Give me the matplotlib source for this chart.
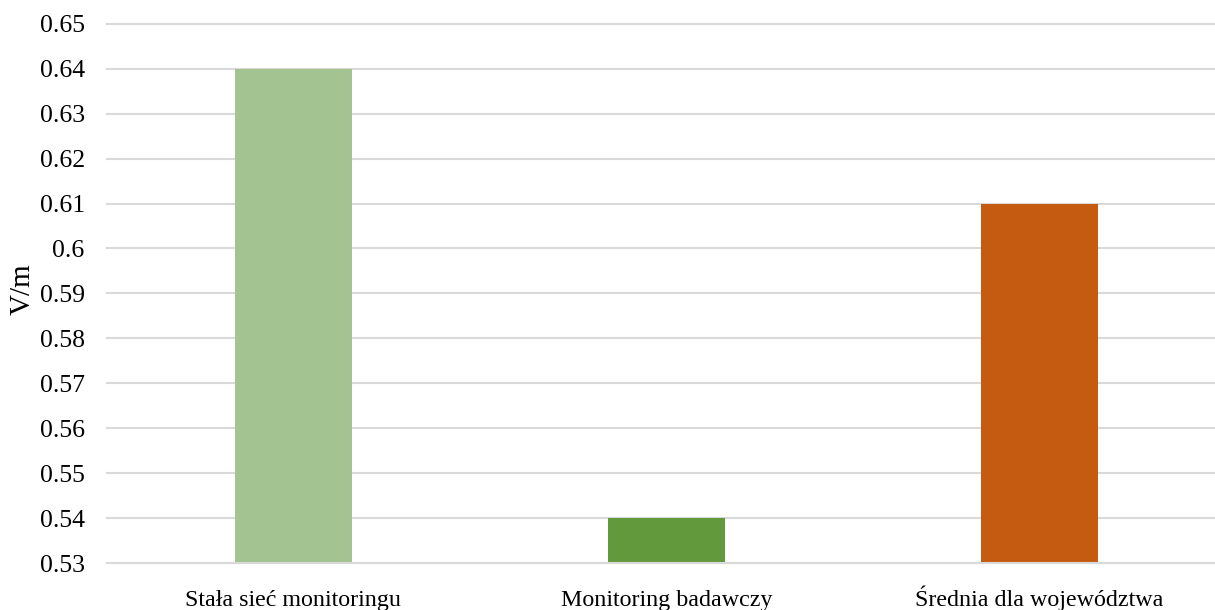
import matplotlib.pyplot as plt
import numpy as np

categories = ['Stała sieć monitoringu', 'Monitoring badawczy', 'Średnia dla województwa']
values = [0.64, 0.54, 0.61]
colors = ['#A3C490', '#63993D', '#C55A11']
yticks = [0.53, 0.54, 0.55, 0.56, 0.57, 0.58, 0.59, 0.6, 0.61, 0.62, 0.63, 0.64, 0.65]

plt.rcParams['font.family'] = ['Liberation Serif', 'DejaVu Serif']

fig = plt.figure(figsize=(12.15, 6.1), dpi=100)
ax = fig.add_axes([0.088, 0.077, 0.921, 0.884])

x = np.arange(len(categories))
ax.bar(x, [v - 0.53 for v in values], bottom=0.53, width=0.314, color=colors, zorder=2)

ax.set_xlim(-0.5, 2.5)
ax.set_ylim(0.53, 0.65)
ax.set_yticks(yticks)
ax.set_yticklabels(['0.6' if t == 0.6 else '%.2f' % t for t in yticks], fontsize=18.5)
ax.set_xticks(x)
ax.set_xticklabels(categories, fontsize=17.3)
# keep all category names on one baseline, even with the accent on Ś
for lbl in ax.get_xticklabels():
    lbl.set_verticalalignment('baseline')
ax.tick_params(axis='both', length=0)
ax.tick_params(axis='y', pad=16)
ax.tick_params(axis='x', pad=31)

ax.yaxis.grid(True, color='#D9D9D9', linewidth=1.5, zorder=0)
for line in ax.get_ygridlines():
    line.set_clip_on(False)
for s in ['top', 'right', 'left']:
    ax.spines[s].set_visible(False)
ax.spines['bottom'].set_color('#D9D9D9')
ax.spines['bottom'].set_linewidth(1.5)

ax.set_ylabel('V/m', fontsize=21)
ax.yaxis.set_label_coords(-0.064, 0.508)

fig.savefig('out.png', dpi=100)
